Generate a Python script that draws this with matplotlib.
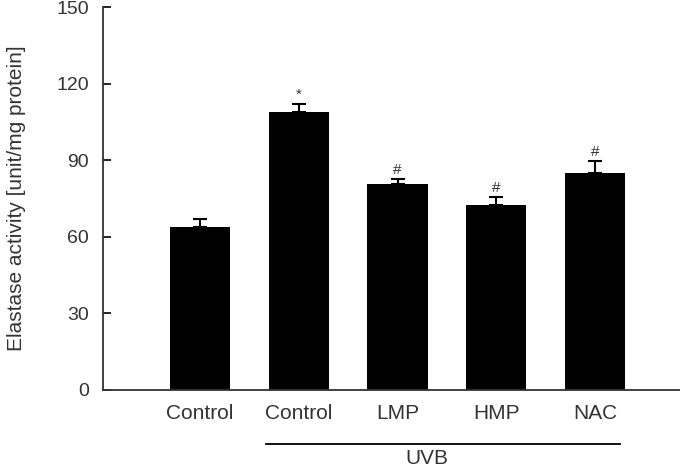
import matplotlib.pyplot as plt

# data
labels = ["Control", "Control", "LMP", "HMP", "NAC"]
values = [64, 109, 80.5, 72.5, 85]
errors = [3, 3, 2, 3, 4.8]
marks = ["", "*", "#", "#", "#"]

plt.rcParams['font.family'] = ['Liberation Sans', 'DejaVu Sans']
text_color = '#333333'

fig = plt.figure(figsize=(6.8, 4.68), dpi=100)
ax = fig.add_axes([0.1515, 0.1667, 0.8485, 0.8183])

x = list(range(len(values)))
ax.bar(x, values, width=0.61, color='black', zorder=2)
ax.errorbar(x, values, yerr=[[0] * len(errors), errors], fmt='none',
            ecolor='black', elinewidth=1.5, capsize=5, capthick=1.5, zorder=3)

# significance marks above the error bars
for xi, v, e, m in zip(x, values, errors, marks):
    if m:
        ax.text(xi, v + e + 2, m, ha='center', va='baseline',
                fontsize=11, color=text_color)

ax.set_xlim(-0.982, 4.86)
ax.set_ylim(0, 150)
ax.set_yticks([0, 30, 60, 90, 120, 150])
ax.tick_params(axis='y', direction='in', length=6, width=1.2,
               labelsize=14, labelcolor=text_color, pad=10)
ax.set_xticks(x)
ax.set_xticklabels(labels)
ax.tick_params(axis='x', length=0, labelsize=15, labelcolor=text_color, pad=10)
ax.set_ylabel("Elastase activity [unit/mg protein]", fontsize=15,
              color=text_color, labelpad=22)

for s in ['top', 'right']:
    ax.spines[s].set_visible(False)
for s in ['left', 'bottom']:
    ax.spines[s].set_linewidth(1.3)
    ax.spines[s].set_color('#333333')

# UVB group line and label under the axis
ax.plot([0.67, 4.25], [-0.14, -0.14], transform=ax.get_xaxis_transform(),
        color='black', lw=1.3, clip_on=False)
ax.text(2.3, -0.178, "UVB", transform=ax.get_xaxis_transform(),
        ha='center', va='center', fontsize=15, color=text_color)

fig.savefig("out.png", dpi=100)
